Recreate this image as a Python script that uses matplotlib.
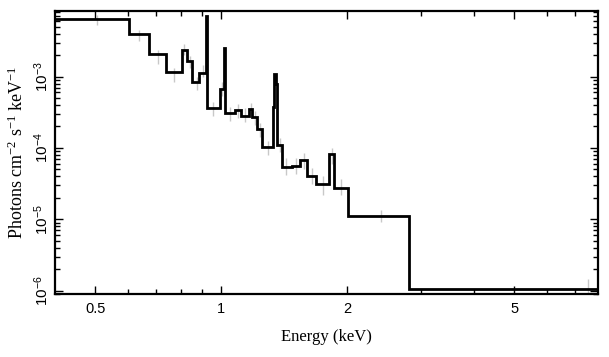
import matplotlib
matplotlib.use("Agg")
import matplotlib.pyplot as plt
from matplotlib.ticker import FixedLocator, NullFormatter, FixedFormatter, LogLocator

plt.rcParams["mathtext.fontset"] = "custom"
plt.rcParams["mathtext.rm"] = "Liberation Serif"
plt.rcParams["mathtext.it"] = "Liberation Serif:italic"
plt.rcParams["mathtext.bf"] = "Liberation Serif:bold"
plt.rcParams["mathtext.sf"] = "Liberation Sans"

# Model step spectrum (bin edges in keV, flux in photons cm^-2 s^-1 keV^-1)
bin_edges = [0.40, 0.603, 0.672, 0.739, 0.804, 0.827, 0.853, 0.886, 0.918, 0.925,
             0.993, 1.015, 1.022, 1.078, 1.114, 1.163, 1.186, 1.215, 1.253, 1.327,
             1.338, 1.348, 1.358, 1.398, 1.477, 1.541, 1.605, 1.68, 1.807, 1.861,
             2.01, 2.81, 7.9]
model_flux = [6.38e-3, 3.93e-3, 2.08e-3, 1.16e-3, 2.37e-3, 1.68e-3, 8.43e-4, 1.13e-3,
              7.1e-3, 3.6e-4, 6.79e-4, 2.55e-3, 3.13e-4, 3.41e-4, 2.84e-4, 3.52e-4,
              2.7e-4, 1.85e-4, 1.04e-4, 3.72e-4, 1.09e-3, 8.0e-4, 1.1e-4, 5.36e-5,
              5.65e-5, 6.79e-5, 4.09e-5, 3.12e-5, 8.24e-5, 2.75e-5, 1.12e-5, 1.05e-6]

# Data points (faint error bars)
data_energy = [0.505, 0.637, 0.705, 0.772, 0.816, 0.84, 0.874, 0.906, 0.957, 1.004,
               1.049, 1.096, 1.14, 1.175, 1.20, 1.234, 1.295, 1.378, 1.43, 1.51,
               1.573, 1.642, 1.745, 1.834, 1.93, 2.41, 7.5]
data_flux = [6.3e-3, 3.8e-3, 1.9e-3, 1.05e-3, 2.4e-3, 1.6e-3, 8.0e-4, 1.2e-3, 3.5e-4, 6.8e-4,
             3.0e-4, 3.3e-4, 2.9e-4, 3.4e-4, 2.6e-4, 1.8e-4, 1.0e-4, 1.1e-4, 5.5e-5, 5.6e-5,
             6.5e-5, 4.0e-5, 3.0e-5, 7.8e-5, 2.8e-5, 1.12e-5, 1.05e-6]
data_relerr = [0.18, 0.2, 0.25, 0.25, 0.2, 0.22, 0.25, 0.22, 0.25, 0.25,
               0.25, 0.25, 0.25, 0.25, 0.25, 0.25, 0.25, 0.25, 0.3, 0.3,
               0.3, 0.3, 0.35, 0.3, 0.3, 0.22, 0.4]

x_major = [0.5, 1, 2, 5]
x_major_labels = ["0.5", "1", "2", "5"]
y_major = [1e-6, 1e-5, 1e-4, 1e-3]
y_major_labels = [r"$\mathsf{10^{-6}}$", r"$\mathsf{10^{-5}}$",
                  r"$\mathsf{10^{-4}}$", r"$\mathsf{10^{-3}}$"]

fig = plt.figure(figsize=(6.09, 3.57), dpi=100)
ax = fig.add_axes([55 / 609, 1 - 294 / 357, (597.5 - 55) / 609, (294 - 11) / 357])

yerr_lo = [f * r / (1 + r) for f, r in zip(data_flux, data_relerr)]
yerr_hi = [f * r for f, r in zip(data_flux, data_relerr)]
ax.errorbar(data_energy, data_flux, yerr=[yerr_lo, yerr_hi], fmt="none",
            ecolor="#c8c8c8", elinewidth=1.0, capsize=0, zorder=1)
ax.stairs(model_flux, bin_edges, baseline=None, color="black", linewidth=2.0, zorder=3)

ax.set_xscale("log")
ax.set_yscale("log")
ax.set_xlim(0.401, 7.9)
ax.set_ylim(8.95e-7, 8.33e-3)

ax.xaxis.set_major_locator(FixedLocator(x_major))
ax.xaxis.set_major_formatter(FixedFormatter(x_major_labels))
ax.xaxis.set_minor_locator(FixedLocator([0.4, 0.6, 0.7, 0.8, 0.9, 3, 4, 6, 7]))
ax.xaxis.set_minor_formatter(NullFormatter())
ax.yaxis.set_major_locator(FixedLocator(y_major))
ax.yaxis.set_major_formatter(FixedFormatter(y_major_labels))
ax.yaxis.set_minor_locator(LogLocator(base=10, subs=range(2, 10)))
ax.yaxis.set_minor_formatter(NullFormatter())

ax.tick_params(which="both", direction="in", top=True, right=True, width=1.0)
ax.tick_params(which="major", length=6)
ax.tick_params(which="minor", length=3.5)
ax.tick_params(axis="x", labelsize=10.5, pad=6)
ax.tick_params(axis="y", labelsize=11, pad=3)
for lab in ax.get_xticklabels():
    lab.set_family("Liberation Sans")
for lab in ax.get_yticklabels():
    lab.set_family("Liberation Sans")
    lab.set_rotation(90)
    lab.set_va("center")

for s in ax.spines.values():
    s.set_linewidth(1.6)

ax.set_xlabel("Energy (keV)", family="Liberation Serif", fontsize=12, labelpad=9)
ax.set_ylabel(r"Photons cm$^{-2}$ s$^{-1}$ keV$^{-1}$", family="Liberation Serif",
              fontsize=13, labelpad=4)

fig.savefig("out.png", dpi=100)
